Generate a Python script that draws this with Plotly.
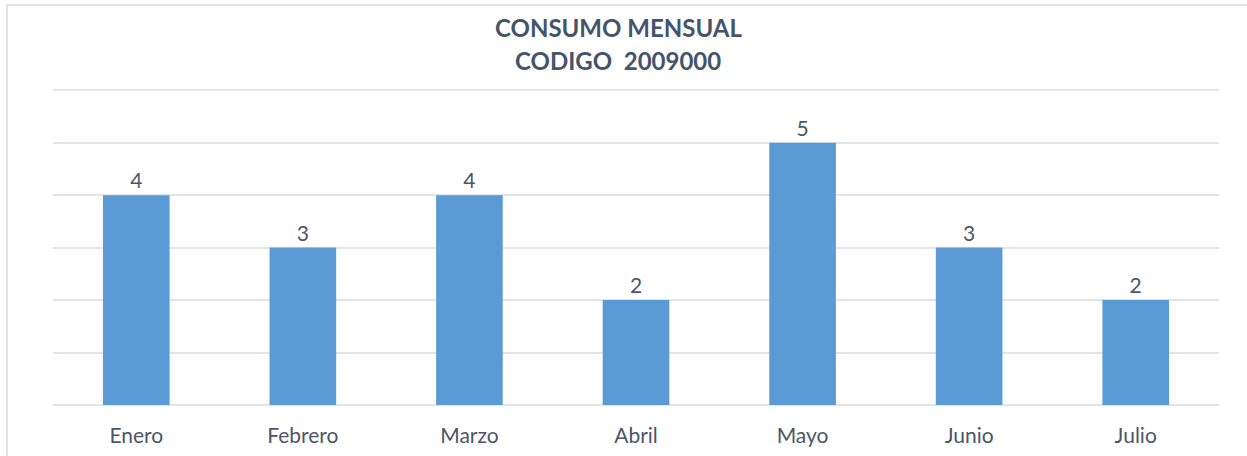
import plotly.graph_objects as go

months = ["Enero", "Febrero", "Marzo", "Abril", "Mayo", "Junio", "Julio"]
consumo = [4, 3, 4, 2, 5, 3, 2]
title_lines = ["CONSUMO MENSUAL", "CODIGO  2009000"]

FONT = "Lato, 'Open Sans', sans-serif"
TXT = "#4b5668"

W, H = 1247, 456
L, R, T, B = 53, 28, 85, 51
PW, PH = W - L - R, H - T - B


def px_x(x):
    return (x - L) / PW


def px_y(y):
    return (H - B - y) / PH


fig = go.Figure()
fig.add_trace(go.Bar(
    x=months, y=consumo,
    marker=dict(color="#5b9bd5", line=dict(width=0)),
    text=[str(v) for v in consumo], textposition="outside",
    textfont=dict(family=FONT, size=21, color=TXT),
    cliponaxis=False,
))

annotations = []
for line, ypx in zip(title_lines, [27, 60]):
    annotations.append(dict(
        text="<b>" + line + "</b>", xref="paper", yref="paper",
        x=px_x(618), y=px_y(ypx),
        xanchor="center", yanchor="middle", showarrow=False,
        font=dict(family=FONT, size=24, color="#44546a")))

fig.update_layout(
    width=W, height=H,
    margin=dict(l=L, r=R, t=T, b=B),
    paper_bgcolor="white", plot_bgcolor="white",
    bargap=0.6,
    showlegend=False,
    annotations=annotations,
    xaxis=dict(showgrid=False, showline=False, zeroline=False, automargin=False,
               ticks="outside", ticklen=12, tickcolor="rgba(0,0,0,0)",
               tickfont=dict(family=FONT, size=21, color=TXT)),
    yaxis=dict(range=[0, 6.1], tickvals=[1, 2, 3, 4, 5, 6], showticklabels=False,
               showgrid=True, gridcolor="#e1e5ea", gridwidth=2,
               zeroline=True, zerolinecolor="#e1e5ea", zerolinewidth=2,
               showline=False, automargin=False),
    shapes=[dict(type="rect", xref="paper", yref="paper",
                 x0=px_x(7), x1=1.05, y0=-0.2, y1=px_y(5),
                 line=dict(color="#dfe3e8", width=2), layer="below")],
)

fig.write_html("out.html", config={"displayModeBar": False},
               post_script="document.body.style.margin='0px';")
